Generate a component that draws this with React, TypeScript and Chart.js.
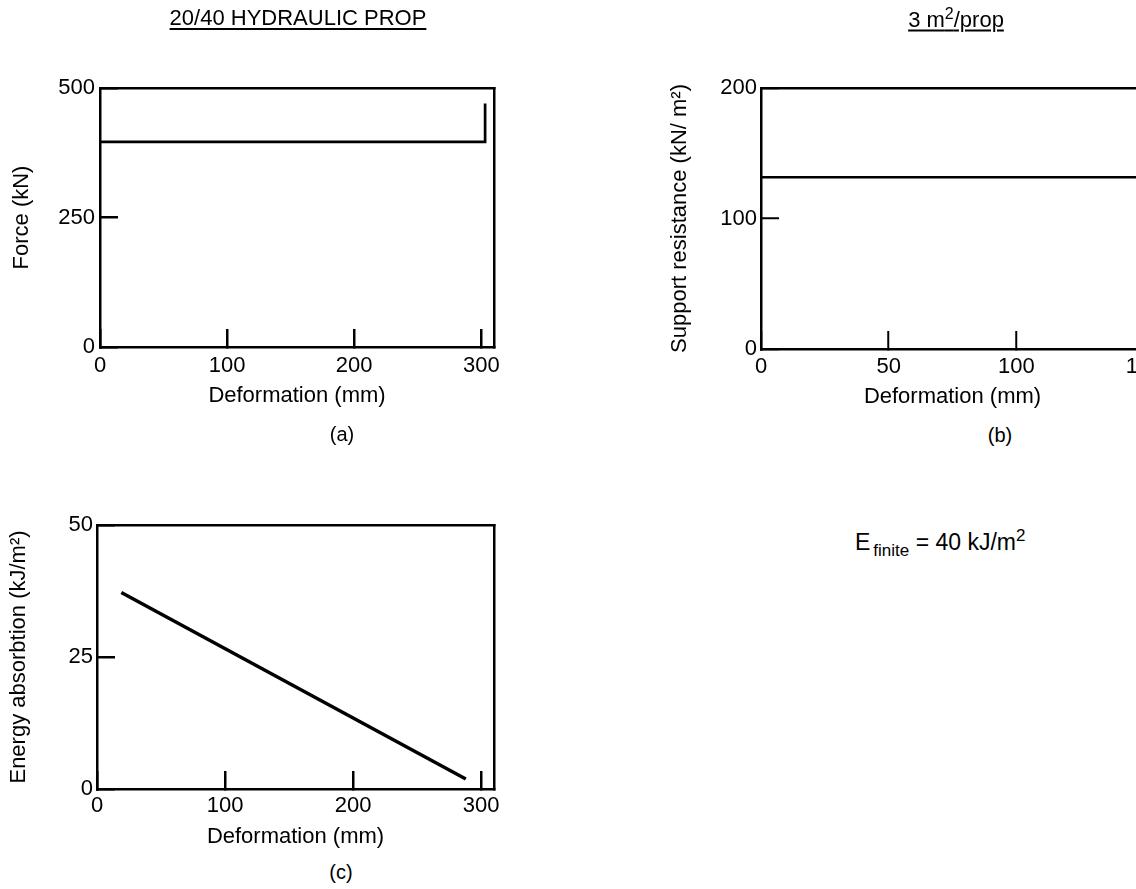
import React, { useEffect, useRef } from "react";
import { Chart, registerables } from "chart.js";

Chart.register(...registerables);

const FONT = '"Liberation Sans", Arial, Helvetica, sans-serif';

// (a) 20/40 hydraulic prop: force vs deformation
const deformA = [0, 303, 303];
const forceA = [396, 396, 470];
const xTicksA = [0, 100, 200, 300];
const yTicksA = [0, 250, 500];

// (b) support resistance at 3 m2/prop
const deformB = [0, 150];
const resistB = [131.7, 131.7];
const xTicksB = [0, 50, 100, 150];
const yTicksB = [0, 100, 200];

// (c) energy absorption
const deformC = [19, 288];
const energyC = [37.2, 1.9];
const xTicksC = [0, 100, 200, 300];
const yTicksC = [0, 25, 50];

type Panel = {
  xs: number[];
  ys: number[];
  xMax: number;
  yMax: number;
  xTicks: number[];
  yTicks: number[];
  xTitle: string;
  yTitle: string;
  area: { left: number; top: number; right: number; bottom: number };
  w: number;
  h: number;
  lineWidth: number;
  frameWidth: number;
  tickWidth: number;
  xLabelPad: number;
  yLabelPad: number;
  xTitlePad: number;
  yTitlePad: number;
};

function makeConfig(p: Panel): any {
  const tickFont = { family: FONT, size: 22 };
  const titleFont = { family: FONT, size: 22 };
  const frame = { display: true, color: "#000", width: p.frameWidth };
  const tickGrid = {
    display: true,
    drawOnChartArea: false,
    drawTicks: true,
    tickLength: -18,
    tickWidth: p.tickWidth,
    tickColor: "#000",
    lineWidth: p.frameWidth,
    color: "#000",
  };
  return {
    type: "line",
    data: {
      datasets: [
        {
          data: p.xs.map((x, i) => ({ x, y: p.ys[i] })),
          borderColor: "#000",
          borderWidth: p.lineWidth,
          pointRadius: 0,
          fill: false,
          tension: 0,
          borderCapStyle: "butt",
          borderJoinStyle: "miter",
        },
      ],
    },
    options: {
      animation: false,
      responsive: false,
      maintainAspectRatio: false,
      devicePixelRatio: 1,
      events: [],
      layout: {
        padding: { left: 0, top: p.area.top, right: p.w - p.area.right, bottom: 0 },
      },
      plugins: {
        legend: { display: false },
        tooltip: { enabled: false },
        title: { display: false },
      },
      scales: {
        x: {
          type: "linear",
          position: "bottom",
          min: 0,
          max: p.xMax,
          afterBuildTicks: (s: any) => {
            s.ticks = p.xTicks.map((v) => ({ value: v }));
          },
          afterFit: (s: any) => {
            s.height = p.h - p.area.bottom;
          },
          ticks: {
            font: tickFont,
            color: "#000",
            padding: p.xLabelPad,
            maxRotation: 0,
            autoSkip: false,
          },
          grid: tickGrid,
          border: frame,
          title: {
            display: true,
            text: p.xTitle,
            font: titleFont,
            color: "#000",
            padding: { top: 0, bottom: p.xTitlePad },
          },
        },
        y: {
          type: "linear",
          position: "left",
          min: 0,
          max: p.yMax,
          afterBuildTicks: (s: any) => {
            s.ticks = p.yTicks.map((v) => ({ value: v }));
          },
          afterFit: (s: any) => {
            s.width = p.area.left;
          },
          ticks: {
            font: tickFont,
            color: "#000",
            padding: p.yLabelPad,
            autoSkip: false,
          },
          grid: tickGrid,
          border: frame,
          title: {
            display: true,
            text: p.yTitle,
            font: titleFont,
            color: "#000",
            padding: { top: p.yTitlePad, bottom: 0 },
          },
        },
        x2: {
          type: "linear",
          position: "top",
          display: true,
          min: 0,
          max: p.xMax,
          ticks: { display: false },
          grid: { display: false, drawTicks: false, lineWidth: p.frameWidth },
          border: frame,
          afterFit: (s: any) => {
            s.height = 0;
          },
        },
        y2: {
          type: "linear",
          position: "right",
          display: true,
          min: 0,
          max: p.yMax,
          ticks: { display: false },
          grid: { display: false, drawTicks: false, lineWidth: p.frameWidth },
          border: frame,
          afterFit: (s: any) => {
            s.width = 0;
          },
        },
      },
    },
  };
}

const panelA: Panel = {
  xs: deformA,
  ys: forceA,
  xMax: 310,
  yMax: 500,
  xTicks: xTicksA,
  yTicks: yTicksA,
  xTitle: "Deformation (mm)",
  yTitle: "Force (kN)",
  area: { left: 100, top: 88, right: 494, bottom: 347 },
  w: 560,
  h: 420,
  lineWidth: 2.7,
  frameWidth: 2.5,
  tickWidth: 2.5,
  xLabelPad: 23.8,
  yLabelPad: 23,
  xTitlePad: 10.8,
  yTitlePad: 8.8,
};

const panelB: Panel = {
  xs: deformB,
  ys: resistB,
  xMax: 150,
  yMax: 200,
  xTicks: xTicksB,
  yTicks: yTicksB,
  xTitle: "Deformation (mm)",
  yTitle: "Support resistance (kN/ m²)",
  area: { left: 161, top: 88, right: 544, bottom: 349 },
  w: 640,
  h: 420,
  lineWidth: 2.5,
  frameWidth: 2.5,
  tickWidth: 2,
  xLabelPad: 22.3,
  yLabelPad: 22,
  xTitlePad: 9.8,
  yTitlePad: 66.8,
};

const panelC: Panel = {
  xs: deformC,
  ys: energyC,
  xMax: 310,
  yMax: 50,
  xTicks: xTicksC,
  yTicks: yTicksC,
  xTitle: "Deformation (mm)",
  yTitle: "Energy absorbtion (kJ/m²)",
  area: { left: 97, top: 85, right: 494, bottom: 349 },
  w: 560,
  h: 420,
  lineWidth: 3.5,
  frameWidth: 2.5,
  tickWidth: 2.5,
  xLabelPad: 21.3,
  yLabelPad: 22,
  xTitlePad: 10.1,
  yTitlePad: 5.8,
};

function ChartPanel({ p, left, top }: { p: Panel; left: number; top: number }) {
  const ref = useRef<HTMLCanvasElement>(null);
  useEffect(() => {
    const chart = new Chart(ref.current as HTMLCanvasElement, makeConfig(p));
    return () => chart.destroy();
  }, []);
  return (
    <canvas
      ref={ref}
      width={p.w}
      height={p.h}
      style={{ position: "absolute", left, top, width: p.w, height: p.h }}
    />
  );
}

function Label({
  x,
  y,
  size,
  children,
  underline,
  anchor,
}: {
  x: number;
  y: number;
  size: number;
  children: React.ReactNode;
  underline?: boolean;
  anchor?: "center" | "left";
}) {
  return (
    <div
      style={{
        position: "absolute",
        left: x,
        top: y,
        transform: anchor === "left" ? "translate(0,-50%)" : "translate(-50%,-50%)",
        fontFamily: FONT,
        fontSize: size,
        lineHeight: 1,
        color: "#000",
        whiteSpace: "nowrap",
        textDecoration: underline ? "underline" : "none",
        textUnderlineOffset: 3,
      }}
    >
      {children}
    </div>
  );
}

export default function App() {
  return (
    <div
      style={{
        position: "absolute",
        left: 0,
        top: 0,
        width: 1136,
        height: 889,
        overflow: "hidden",
        background: "#fff",
      }}
    >
      <ChartPanel p={panelA} left={0} top={0} />
      <ChartPanel p={panelB} left={600} top={0} />
      <ChartPanel p={panelC} left={0} top={440} />

      <Label x={298} y={18} size={22} underline>
        20/40 HYDRAULIC PROP
      </Label>
      <Label x={956} y={18} size={22} underline>
        3 m<span style={{ fontSize: 16, verticalAlign: "8px" }}>2</span>/prop
      </Label>
      <Label x={342} y={434} size={20}>
        (a)
      </Label>
      <Label x={1000} y={435} size={20}>
        (b)
      </Label>
      <Label x={341} y={872} size={20}>
        (c)
      </Label>
      <Label x={855} y={543} size={23} anchor="left">
        E<span style={{ fontSize: 17, verticalAlign: "-6px", marginLeft: 3 }}>finite</span> = 40 kJ/m
        <span style={{ fontSize: 17, verticalAlign: "9px" }}>2</span>
      </Label>
    </div>
  );
}
